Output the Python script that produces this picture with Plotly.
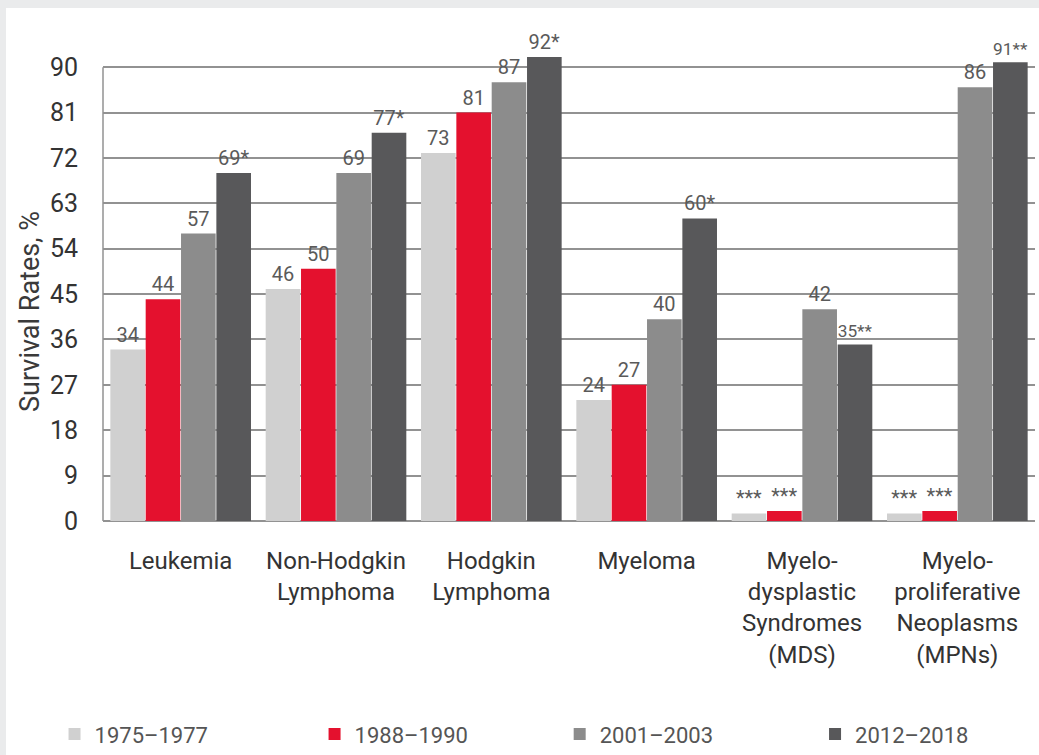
import plotly.graph_objects as go

categories = ["Leukemia", "Non-Hodgkin<br>Lymphoma", "Hodgkin<br>Lymphoma", "Myeloma",
              "Myelo-<br>dysplastic<br>Syndromes<br>(MDS)",
              "Myelo-<br>proliferative<br>Neoplasms<br>(MPNs)"]
series_names = ["1975–1977", "1988–1990", "2001–2003", "2012–2018"]
v_1975 = [34, 46, 73, 24, 1.5, 1.5]
v_1988 = [44, 50, 81, 27, 2, 2]
v_2001 = [57, 69, 87, 40, 42, 86]
v_2012 = [69, 77, 92, 60, 35, 91]
t_1975 = ["34", "46", "73", "24", "***", "***"]
t_1988 = ["44", "50", "81", "27", "***", "***"]
t_2001 = ["57", "69", "87", "40", "42", "86"]
t_2012 = ["69*", "77*", "92*", "60*", "35**", "91**"]
y_ticks = [0, 9, 18, 27, 36, 45, 54, 63, 72, 81, 90]
y_title = "Survival Rates, %"

colors = ["#d0d0d0", "#e4112e", "#8c8c8c", "#58585a"]
FONT = "Roboto, Liberation Sans, sans-serif"
legend_ids = ["legend2", "legend3", "legend4", "legend5"]
legend_x = [-0.052, 0.227, 0.490, 0.764]

fig = go.Figure()
for name, vals, txt, col, lg in zip(series_names, [v_1975, v_1988, v_2001, v_2012],
                                    [t_1975, t_1988, t_2001, t_2012], colors, legend_ids):
    fig.add_trace(go.Bar(
        name=name, x=categories, y=vals, text=txt, textposition="outside",
        textfont=dict(size=20, color="#5a5a5a", family=FONT),
        marker=dict(color=col, line=dict(width=0)), cliponaxis=False,
        legend=lg,
    ))

legend_style = dict(orientation="h", y=-0.45, yanchor="middle", xanchor="left",
                    font=dict(size=22, color="#555555", family=FONT),
                    bgcolor="rgba(0,0,0,0)")
legends = {lg: dict(legend_style, x=lx) for lg, lx in zip(legend_ids, legend_x)}

W_PLOT = 1039 - 103 - 4
H_PLOT = 755 - 47 - 234
band = "#eaebec"
shapes = [
    dict(type="line", xref="paper", yref="y", x0=0, x1=0, y0=0, y1=90,
         line=dict(color="#929292", width=1.5), layer="below"),
    dict(type="rect", xref="paper", yref="paper", x0=-103 / W_PLOT, x1=-97 / W_PLOT,
         y0=-234 / H_PLOT, y1=(H_PLOT + 47) / H_PLOT, fillcolor=band, line=dict(width=0),
         layer="below"),
    dict(type="rect", xref="paper", yref="paper", x0=-103 / W_PLOT, x1=(W_PLOT + 4) / W_PLOT,
         y0=(H_PLOT + 39) / H_PLOT, y1=(H_PLOT + 47) / H_PLOT, fillcolor=band,
         line=dict(width=0), layer="below"),
]

fig.update_layout(
    width=1039, height=755,
    paper_bgcolor="white", plot_bgcolor="white",
    barmode="group", bargap=0.09, bargroupgap=0.02,
    margin=dict(l=103, r=4, t=47, b=234, autoexpand=False),
    font=dict(family=FONT, color="#333333", size=20),
    showlegend=True,
    xaxis=dict(tickfont=dict(size=24, color="#333333", family=FONT), ticks="",
               showline=False, showgrid=False, ticklabelstandoff=23),
    yaxis=dict(range=[0, 94], tickvals=y_ticks, ticktext=[str(v) for v in y_ticks],
               tickfont=dict(size=25, color="#333333", family=FONT),
               showgrid=True, gridcolor="#929292", gridwidth=1.5,
               zeroline=True, zerolinecolor="#929292", zerolinewidth=1.5,
               ticks="", showline=False, ticklabelstandoff=24),
    annotations=[dict(text=y_title, textangle=-90, xref="paper", yref="paper",
                      x=(30 - 103) / W_PLOT, y=(521 - 312) / H_PLOT,
                      xanchor="center", yanchor="middle", showarrow=False,
                      font=dict(size=27, color="#3a3a3a", family=FONT))],
    shapes=shapes,
    **legends,
)

fig.write_html("out.html")
